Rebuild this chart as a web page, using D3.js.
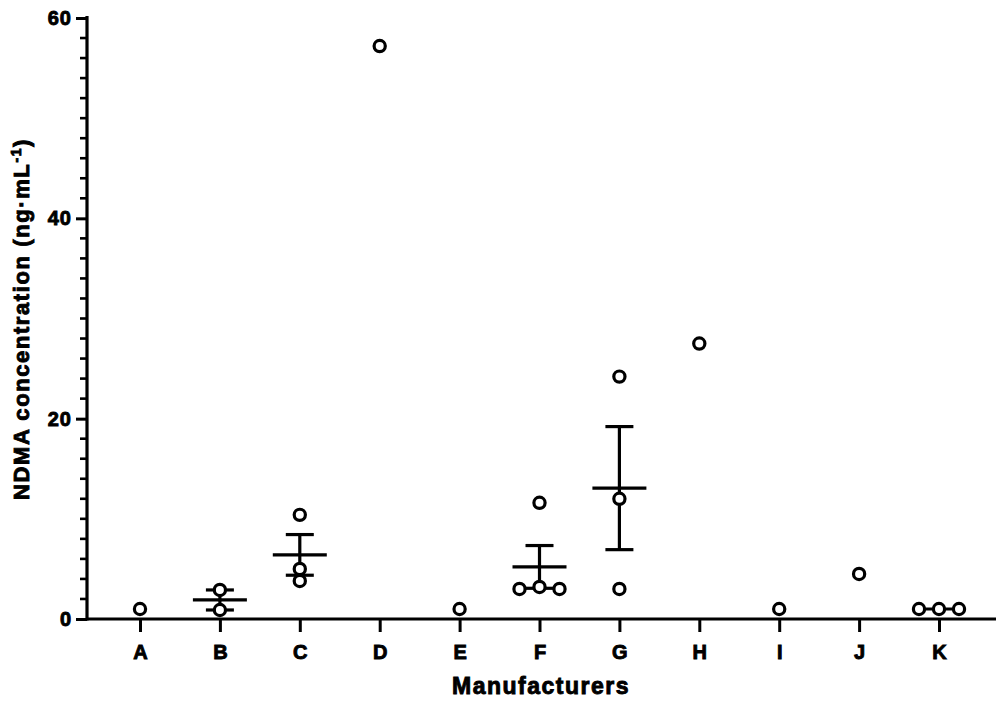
<!DOCTYPE html>
<html><head><meta charset="utf-8">
<script src="https://cdn.jsdelivr.net/npm/d3@7"></script>
<style>
body{margin:0;background:#fff;}
svg{display:block;font-family:"Liberation Sans",Arial,sans-serif;font-weight:bold;}
</style></head>
<body>
<svg id="chart" width="1000" height="704"></svg>
<script>
const categories = ["A","B","C","D","E","F","G","H","I","J","K"];
const pointValues = {
  A:[1.0], B:[2.9,0.9], C:[10.4,5.0,3.8], D:[57.2], E:[1.0],
  F:[11.6,3.0,3.2,3.0], G:[24.2,12.0,3.0], H:[27.5], I:[1.0], J:[4.5], K:[1.0,1.0,1.0]
};
// horizontal jitter index within each group (in units of point spacing)
const pointOffsets = {
  A:[0], B:[0,0], C:[0,0,0], D:[0], E:[0],
  F:[0,-1,0,1], G:[0,0,0], H:[0], I:[0], J:[0], K:[-1,0,1]
};
const meanCats = ["B","C","F","G","K"];
const yTicks = [0,20,40,60];

const svg = d3.select("#chart");
const x = d3.scalePoint().domain(categories).range([140,939]);
const y = d3.scaleLinear().domain([0,60]).range([619,18]);
const jitter = 20;
const FONT = "Liberation Sans, Arial, sans-serif";

function boldText(sel, size, spacing){
  sel.attr("font-size",size).attr("font-weight","bold").attr("font-family",FONT)
     .attr("letter-spacing",spacing).attr("fill","#000")
     .attr("stroke","#000").attr("stroke-width",0.9).attr("paint-order","stroke");
}

// axes
const gx = svg.append("g").attr("transform","translate(0,619)");
gx.append("line").attr("x1",86).attr("x2",996).attr("stroke","#000").attr("stroke-width",3.2);
const ax = gx.append("g").call(d3.axisBottom(x).tickSize(13).tickPadding(7));
ax.select(".domain").remove();
ax.selectAll(".tick line").attr("stroke-width",3);
ax.selectAll(".tick text").attr("dy","1em").call(boldText,20,0);

const gy = svg.append("g").attr("transform","translate(87,0)");
gy.append("line").attr("y1",16).attr("y2",620.5).attr("stroke","#000").attr("stroke-width",3.2);
const minor = d3.range(0,61,2).filter(v=>!yTicks.includes(v));
gy.selectAll(".minor").data(minor).join("line")
  .attr("x1",-7).attr("x2",0).attr("y1",d=>y(d)).attr("y2",d=>y(d))
  .attr("stroke","#000").attr("stroke-width",2.6);
const ay = gy.append("g").call(d3.axisLeft(y).tickValues(yTicks).tickSize(11).tickPadding(4));
ay.select(".domain").remove();
ay.selectAll(".tick line").attr("stroke-width",3);
ay.selectAll(".tick text").call(boldText,20,1);

// axis titles
svg.append("text").attr("x",541).attr("y",694).attr("text-anchor","middle")
  .call(boldText,23,1.5).text("Manufacturers");
const yt = svg.append("text").attr("transform","translate(29,319) rotate(-90)")
  .attr("text-anchor","middle").call(boldText,22,1.6);
yt.append("tspan").text("NDMA concentration (ng·mL");
yt.append("tspan").attr("dy",-8).attr("font-size",14).text("-1");
yt.append("tspan").attr("dy",8).text(")");

// mean ± SEM
function stats(v){
  const m = d3.mean(v);
  const sem = v.length>1 ? d3.deviation(v)/Math.sqrt(v.length) : 0;
  return {m, sem};
}
const eg = svg.append("g").attr("stroke","#000").attr("stroke-width",3.2);
meanCats.forEach(c=>{
  const s = stats(pointValues[c]);
  const cx = x(c);
  eg.append("line").attr("x1",cx-27).attr("x2",cx+27).attr("y1",y(s.m)).attr("y2",y(s.m));
  if(s.sem>0){
    eg.append("line").attr("x1",cx).attr("x2",cx).attr("y1",y(s.m+s.sem)).attr("y2",y(s.m-s.sem));
    [s.m+s.sem,s.m-s.sem].forEach(v=>{
      eg.append("line").attr("x1",cx-14).attr("x2",cx+14).attr("y1",y(v)).attr("y2",y(v));
    });
  }
});

// points
const pts = [];
categories.forEach(c=>pointValues[c].forEach((v,i)=>pts.push({c,v,o:pointOffsets[c][i]})));
svg.append("g").selectAll("circle").data(pts).join("circle")
  .attr("cx",d=>x(d.c)+d.o*jitter).attr("cy",d=>y(d.v)).attr("r",5.6)
  .attr("fill","#fff").attr("stroke","#000").attr("stroke-width",3.2);
</script>
</body></html>
